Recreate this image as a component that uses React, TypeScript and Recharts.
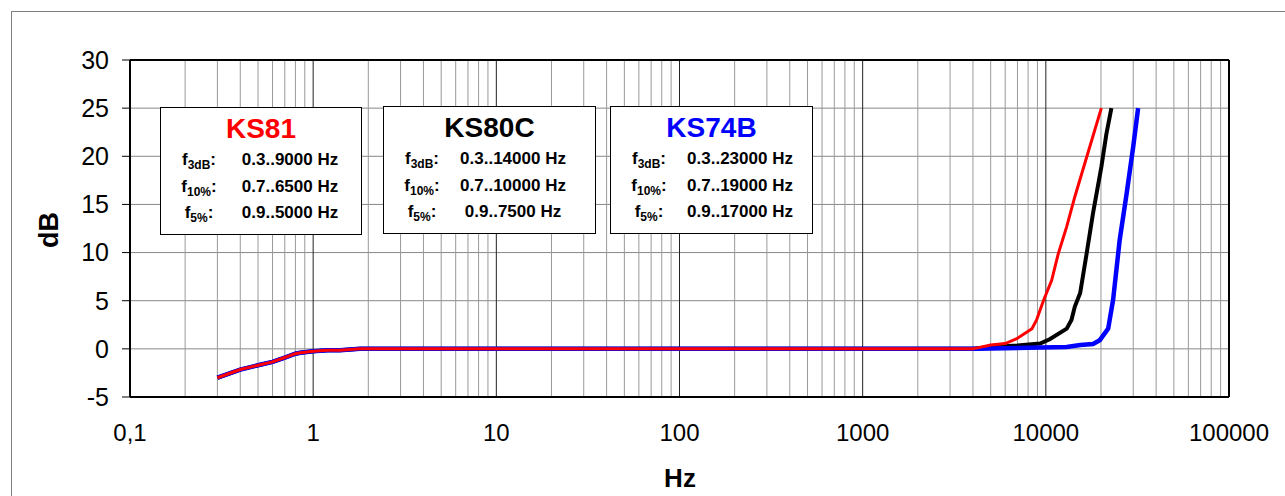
import React from "react";
import {
  LineChart,
  Line,
  XAxis,
  YAxis,
  CartesianGrid,
  ReferenceLine,
} from "recharts";

// shared low-frequency roll-off (all three sensors sit on top of each other here)
const lowFreq = [0.3, 0.4, 0.5, 0.6, 0.7, 0.8, 0.85, 1, 1.2, 1.4, 1.8];
const lowDb = [-3, -2.15, -1.7, -1.35, -0.9, -0.5, -0.4, -0.25, -0.15, -0.15, 0];

const ks81Freq = [4000, 5000, 6000, 7000, 8400, 8900, 9700, 10750, 11700, 13000, 14400, 16700, 20100];
const ks81Db = [0, 0.4, 0.55, 1.1, 2.1, 3, 5, 7.1, 9.9, 12.7, 15.8, 19.9, 25];

const ks80cFreq = [4000, 5000, 7000, 9300, 10500, 13000, 13800, 14400, 15400, 16700, 18100, 20100, 21400, 22800];
const ks80cDb = [0, 0.2, 0.35, 0.55, 1.0, 2.1, 3, 4.4, 5.8, 9.9, 14.1, 18.9, 22.3, 25];

const ks74bFreq = [4200, 13000, 15400, 18100, 19700, 21900, 23300, 25300, 27600, 30000, 31900];
const ks74bDb = [0, 0.2, 0.4, 0.5, 0.9, 2.1, 5.1, 11.3, 16.1, 21.0, 25];

const xTicks = [0.1, 1, 10, 100, 1000, 10000, 100000];
const yTicks = [-5, 0, 5, 10, 15, 20, 25, 30];
const minorSteps = [2, 3, 4, 5, 6, 7, 8, 9];

const boxes = [
  { name: "KS81", color: "#ff0000", left: 160, top: 107, width: 202, values: ["0.3..9000 Hz", "0.7..6500 Hz", "0.9..5000 Hz"] },
  { name: "KS80C", color: "#000000", left: 383, top: 106, width: 213, values: ["0.3..14000 Hz", "0.7..10000 Hz", "0.9..7500 Hz"] },
  { name: "KS74B", color: "#0000ff", left: 610, top: 106, width: 203, values: ["0.3..23000 Hz", "0.7..19000 Hz", "0.9..17000 Hz"] },
];
const rowSubs = ["3dB", "10%", "5%"];

const FONT = "'Liberation Sans', Arial, sans-serif";

const toSeries = (f: number[], d: number[]) => f.map((hz, i) => ({ hz, db: d[i] }));

const ks81 = toSeries([...lowFreq, ...ks81Freq], [...lowDb, ...ks81Db]);
const ks80c = toSeries([...lowFreq, ...ks80cFreq], [...lowDb, ...ks80cDb]);
const ks74b = toSeries([...lowFreq, ...ks74bFreq], [...lowDb, ...ks74bDb]);

const minorLines = xTicks.slice(0, -1).flatMap((d) => minorSteps.map((m) => d * m));

const fmtX = (v: number) => (v === 0.1 ? "0,1" : String(v));

export default function App() {
  return (
    <div style={{ position: "fixed", left: 0, top: 0, width: 1285, height: 496, background: "#fff", overflow: "hidden", fontFamily: FONT }}>
      <div style={{ position: "absolute", left: 11, top: 11, width: 1300, height: 520, border: "1.5px solid #808080", boxSizing: "border-box" }} />
      <div style={{ position: "absolute", left: 0, top: 0 }}>
        <LineChart width={1285} height={496} margin={{ top: 60, right: 56, bottom: 39, left: 0 }}>
          <CartesianGrid vertical={false} stroke="#888" horizontalValues={yTicks} />
          {minorLines.map((v) => (
            <ReferenceLine key={v} x={v} stroke="#999" strokeWidth={1} />
          ))}
          {xTicks.map((v) => (
            <ReferenceLine key={"d" + v} x={v} stroke="#222" strokeWidth={1} />
          ))}
          <ReferenceLine y={30} stroke="#000" strokeWidth={2} />
          <ReferenceLine x={100000} stroke="#000" strokeWidth={2} />
          <XAxis
            dataKey="hz"
            type="number"
            scale="log"
            domain={[0.1, 100000]}
            ticks={xTicks}
            tickFormatter={fmtX}
            allowDataOverflow
            axisLine={{ stroke: "#000", strokeWidth: 2 }}
            tickLine={false}
            tickSize={0}
            tickMargin={27}
            height={60}
            tick={{ fontSize: 24, fill: "#000", fontFamily: FONT }}
          />
          <YAxis
            type="number"
            domain={[-5, 30]}
            ticks={yTicks}
            allowDataOverflow
            width={130}
            axisLine={{ stroke: "#000", strokeWidth: 2 }}
            tickLine={{ stroke: "#000" }}
            tickSize={8}
            tickMargin={13}
            tick={{ fontSize: 25, fill: "#000", fontFamily: FONT }}
          />
          <Line data={ks80c} dataKey="db" stroke="#000" strokeWidth={4} dot={false} isAnimationActive={false} type="linear" />
          <Line data={ks74b} dataKey="db" stroke="#0000ff" strokeWidth={4.5} dot={false} isAnimationActive={false} type="linear" />
          <Line data={ks81} dataKey="db" stroke="#ff0000" strokeWidth={3} dot={false} isAnimationActive={false} type="linear" />
        </LineChart>
      </div>

      <div style={{ position: "absolute", left: 49, top: 230, transform: "translate(-50%, -50%) rotate(-90deg)", fontSize: 27, fontWeight: "bold", lineHeight: 1 }}>
        dB
      </div>
      <div style={{ position: "absolute", left: 680, top: 478, transform: "translate(-50%, -50%)", fontSize: 26, fontWeight: "bold", lineHeight: 1 }}>
        Hz
      </div>

      {boxes.map((b) => (
        <div
          key={b.name}
          style={{ position: "absolute", left: b.left, top: b.top, width: b.width, height: 128, border: "1.5px solid #000", background: "#fff", boxSizing: "border-box" }}
        >
          <div style={{ position: "absolute", left: 0, top: 7, width: "100%", textAlign: "center", fontSize: 28, lineHeight: "28px", fontWeight: "bold", color: b.color }}>
            {b.name}
          </div>
          {b.values.map((v, i) => (
            <div key={v} style={{ position: "absolute", left: 0, top: 38 + i * 26.7, width: "100%", height: 27, lineHeight: "27px", fontSize: 17, fontWeight: "bold", color: "#000", whiteSpace: "nowrap" }}>
              <span style={{ position: "absolute", left: 0, width: 76, textAlign: "center" }}>
                f<sub style={{ fontSize: 12, verticalAlign: "-4px", lineHeight: 0 }}>{rowSubs[i]}</sub>:
              </span>
              <span style={{ position: "absolute", left: 66, width: 126, textAlign: "center" }}>{v}</span>
            </div>
          ))}
        </div>
      ))}
    </div>
  );
}
